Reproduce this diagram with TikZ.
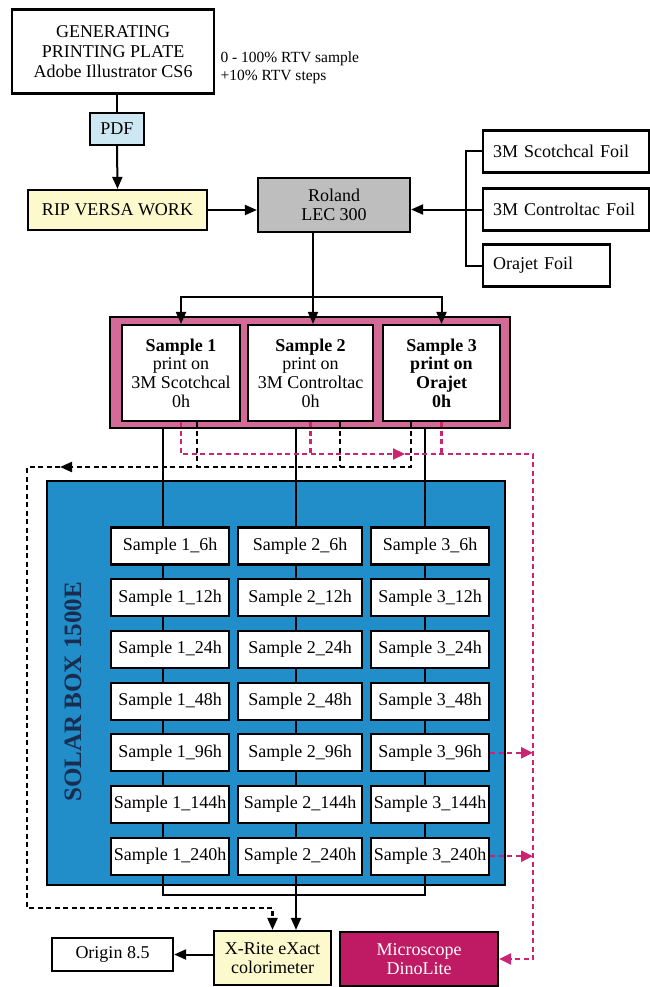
\documentclass[tikz,border=0pt]{standalone}
\usepackage{fontspec}
\setmainfont{Liberation Serif}
\usetikzlibrary{arrows.meta}

\definecolor{pdfblue}{RGB}{205,232,243}
\definecolor{ripyellow}{RGB}{252,249,205}
\definecolor{rolandgrey}{RGB}{190,190,190}
\definecolor{framepink}{RGB}{212,106,152}
\definecolor{solarblue}{RGB}{33,141,201}
\definecolor{solarnavy}{RGB}{25,45,80}
\definecolor{dinomagenta}{RGB}{190,27,100}
\definecolor{dashpink}{RGB}{205,35,115}

\begin{document}
\begin{tikzpicture}[x=1pt,y=-1pt]
		\tikzstyle{box}=[rectangle, draw=black, line width=2.2pt, inner sep=0pt, align=center, font=\fontsize{18}{19}\selectfont]
		\tikzstyle{sample}=[box, fill=white, minimum height=37pt]
		\tikzstyle{connect}=[line width=2pt]
		\tikzstyle{arr}=[connect, -{Triangle[length=12pt,width=10pt]}]
		\tikzstyle{blackdash}=[line width=2.2pt, dash pattern=on 5pt off 3.5pt]
		\tikzstyle{pinkdash}=[blackdash, draw=dashpink]
		\tikzstyle{pinkarr}=[pinkdash, -{Triangle[length=12pt,width=11pt]}]
		\useasboundingbox (0,0) rectangle (649,987);
		
		\node[box, minimum width=202pt, minimum height=84pt, font=\fontsize{18}{20}\selectfont] (gen) at (113,51.5) {GENERATING\\PRINTING PLATE\\Adobe Illustrator CS6};
		\node[anchor=west, align=left, font=\fontsize{15.5}{18}\selectfont] (rtv) at (217,68) {0 - 100\% RTV sample\\+10\% RTV steps};
		\node[box, fill=pdfblue, minimum width=54pt, minimum height=32pt] (pdf) at (117,129) {PDF};
		\node[box, fill=ripyellow, minimum width=179pt, minimum height=40pt] (rip) at (117.5,210) {RIP VERSA WORK};
		\node[box, fill=rolandgrey, minimum width=152pt, minimum height=54pt] (roland) at (334,205) {Roland\\LEC 300};
		
		\node[box, anchor=west, minimum height=42pt, inner xsep=10pt, text width=146pt, align=left] (scotch)  at (482,151.5) {3M Scotchcal Foil};
		\node[box, anchor=west, minimum height=42pt, inner xsep=10pt, text width=146pt, align=left] (control) at (482,209.5) {3M Controltac Foil};
		\node[box, anchor=west, minimum height=42pt, inner xsep=10pt, text width=107pt, align=left] (orajet)  at (482,265.5) {Orajet Foil};
		
		% printed samples
		\node[box, fill=framepink, minimum width=400pt, minimum height=111pt] (prints) at (310,372.5) {};
		\node[box, fill=white, minimum width=118pt, minimum height=96pt, font=\fontsize{18}{18.7}\selectfont] (smp1) at (181,373)   {\textbf{Sample 1}\\print on\\3M Scotchcal\\0h};
		\node[box, fill=white, minimum width=125pt, minimum height=96pt, font=\fontsize{18}{18.7}\selectfont] (smp2) at (310.5,373) {\textbf{Sample 2}\\print on\\3M Controltac\\0h};
		\node[box, fill=white, minimum width=117pt, minimum height=96pt, font=\fontsize{18}{18.7}\selectfont\bfseries] (smp3) at (441.5,373) {Sample 3\\print on\\Orajet\\0h};
		
		% solar box
		\node[box, fill=solarblue, minimum width=458pt, minimum height=404pt] (solar) at (276,683) {};
		\node[rotate=90, text=solarnavy, font=\fontsize{25}{27}\selectfont\bfseries] (solarlabel) at (73,692) {SOLAR BOX 1500E};
		
		\coordinate (col1) at (163,428);
		\coordinate (col2) at (296,428);
		\coordinate (col3) at (425,428);
		\coordinate (join) at (296,895);
		\draw[connect] (col1) -- (col1 |- join) -- (col3 |- join) -- (col3);
		\draw[connect] (col2) -- (join);
		
		\foreach \h [count=\r] in {6,12,24,48,96,144,240}{
			\pgfmathsetmacro\yy{546+51.7*(\r-1)}
			\node[sample, minimum width=118pt] (s1-\h) at (170,\yy) {Sample 1\_\h h};
			\node[sample, minimum width=124pt] (s2-\h) at (300,\yy) {Sample 2\_\h h};
			\node[sample, minimum width=118pt] (s3-\h) at (430,\yy) {Sample 3\_\h h};
		}
		
		% measuring
		\node[box, fill=ripyellow, minimum width=117pt, minimum height=54pt] (xrite) at (272.5,958) {X-Rite eXact\\colorimeter};
		\node[box, fill=white, minimum width=121pt, minimum height=33pt] (origin) at (112.5,954.5) {Origin 8.5};
		\node[box, fill=dinomagenta, text=white, minimum width=158pt, minimum height=54pt] (dino) at (419,959) {Microscope\\DinoLite};
		
		\draw[connect] (gen.south -| pdf.north) -- (pdf.north);
		\draw[arr] (pdf.south) -- (rip.north);
		\draw[arr] (rip.east) -- (rip.east -| roland.west);
		\draw[connect] (scotch.west) -- ++(-16,0) |- (orajet.west);
		\draw[arr] (control.west) -- (control.west -| roland.east);
		
		\coordinate (fork) at (313,297);
		\draw[connect] (roland.south -| fork) -- (fork);
		\draw[arr] (fork) -- (fork |- smp2.north);
		\draw[arr] (fork) -| (smp1.north);
		\draw[arr] (fork) -| (smp3.north);
		
		\draw[arr] (join) -- (join |- xrite.north);
		\draw[arr] (origin.east -| xrite.west) -- (origin.east);
		
		% black dashed loop
		\coordinate (blk) at (411,467);
		\coordinate (blkmark) at (60,467);
		\coordinate (blkcorner) at (27,908);
		\coordinate (b1) at ([xshift=16pt]smp1.south);
		\coordinate (b2) at ([xshift=29.5pt]smp2.south);
		\coordinate (b3) at ([xshift=-30.5pt]smp3.south);
		\draw[blackdash, -{Triangle[length=12pt,width=10pt]}] (b3) |- (blkmark);
		\draw[blackdash, -{Triangle[length=12pt,width=10pt]}] (blkmark) -| (blkcorner) -| (xrite.north);
		\draw[blackdash] (b1) -- (b1 |- blk);
		\draw[blackdash] (b2) -- (b2 |- blk);
		
		% pink dashed loop
		\coordinate (pinkhub) at (405,454);
		\coordinate (pinkcorner) at (533,454);
		\draw[pinkarr] (smp1.south) |- (pinkhub);
		\draw[pinkarr] (pinkhub) -- (pinkcorner) |- (dino.east);
		\draw[pinkdash] (smp2.south) -- (smp2.south |- pinkhub);
		\draw[pinkdash] (smp3.south) -- (smp3.south |- pinkhub);
		\draw[pinkarr] (s3-96.east) -- (s3-96.east -| pinkcorner);
		\draw[pinkarr] (s3-240.east) -- (s3-240.east -| pinkcorner);
		
		\end{tikzpicture}
\end{document}
